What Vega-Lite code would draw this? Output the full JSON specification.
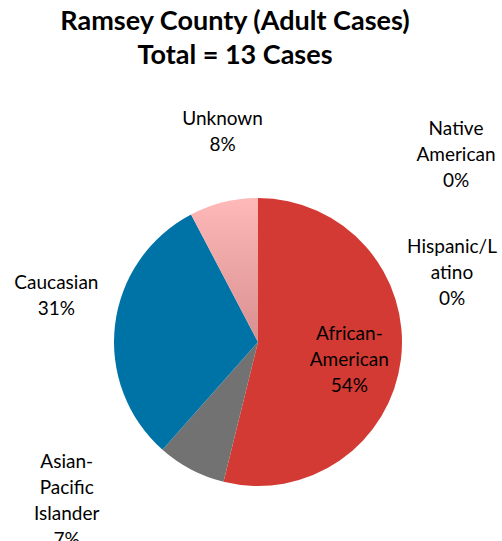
{
  "$schema": "https://vega.github.io/schema/vega-lite/v6.json",
  "width": 488,
  "height": 288,
  "autosize": {"type": "none"},
  "padding": {"left": 14, "right": 0, "top": 198, "bottom": 55},
  "background": "white",
  "config": {"view": {"stroke": null}},
  "title": {
    "text": ["Ramsey County (Adult Cases)", "Total = 13 Cases"],
    "font": "Lato",
    "fontSize": 27,
    "fontWeight": "bold",
    "color": "black",
    "anchor": "middle",
    "baseline": "alphabetic",
    "offset": 19,
    "lineHeight": 34,
    "dx": -23
  },
  "data": {
    "values": [
      {"cat": "African-American", "n": 7, "ord": 1, "lbl": "African-\nAmerican\n54%"},
      {"cat": "Asian-Pacific Islander", "n": 1, "ord": 2, "lbl": "Asian-\nPacific\nIslander\n7%"},
      {"cat": "Caucasian", "n": 4, "ord": 3, "lbl": "Caucasian\n31%"},
      {"cat": "Unknown", "n": 1, "ord": 4, "lbl": "Unknown\n8%"},
      {"cat": "Native American", "n": 0, "ord": 5, "lbl": "Native\nAmerican\n0%"},
      {"cat": "Hispanic/Latino", "n": 0, "ord": 6, "lbl": "Hispanic/L\natino\n0%"}
    ]
  },
  "encoding": {
    "theta": {"field": "n", "type": "quantitative", "stack": true},
    "order": {"field": "ord", "type": "quantitative"}
  },
  "layer": [
    {
      "mark": {"type": "arc"},
      "encoding": {
        "color": {
          "condition": {
            "test": "datum.cat === 'Unknown'",
            "value": {
              "x1": 0, "y1": 0, "x2": 0, "y2": 1,
              "gradient": "linear",
              "stops": [
                {"offset": 0, "color": "#FFB9B9"},
                {"offset": 1, "color": "#D88F8F"}
              ]
            }
          },
          "field": "cat",
          "type": "nominal",
          "scale": {
            "domain": ["African-American", "Asian-Pacific Islander", "Caucasian", "Unknown", "Native American", "Hispanic/Latino"],
            "range": ["#D43A34", "#727272", "#0073A6", "#F4A8A8", "#7F9FCF", "#9BBB59"]
          },
          "legend": null
        }
      }
    },
    {
      "mark": {
        "type": "text",
        "font": "Lato",
        "fontSize": 19,
        "lineHeight": 26,
        "lineBreak": "\n",
        "baseline": "middle",
        "align": "center",
        "color": "black",
        "radius": {"expr": "datum.cat === 'African-American' ? 92 : 190"},
        "dx": {"expr": "datum.cat === 'Asian-Pacific Islander' ? -103 : datum.cat === 'Caucasian' ? -13 : datum.cat === 'Unknown' ? 10 : datum.cat === 'Native American' ? 198 : datum.cat === 'Hispanic/Latino' ? 194 : 0"},
        "dy": {"expr": "datum.cat === 'Asian-Pacific Islander' ? -48 : datum.cat === 'Caucasian' ? -36 : datum.cat === 'Unknown' ? -39 : datum.cat === 'Native American' ? -23 : datum.cat === 'Hispanic/Latino' ? 95 : -19"}
      },
      "encoding": {
        "text": {"field": "lbl", "type": "nominal"}
      }
    }
  ]
}
